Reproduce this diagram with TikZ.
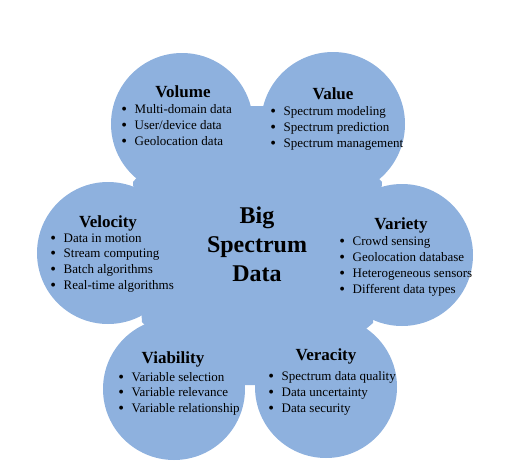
\documentclass[tikz,border=0pt]{standalone}
\usepackage{graphicx}
\usepackage{fontspec}
\setmainfont{Liberation Serif}
\definecolor{petalblue}{RGB}{142,177,222}
\newcommand\bulletlist[5]{%
  \foreach \t [count=\i] in {#5}{%
    \node[itm] (#1\i) at ({#2-2.8}, {#3+#4*(\i-1)}) {\makebox[13.3pt][l]{\raisebox{-1.1pt}{\scalebox{1.25}{\textbullet}}}\t};
  }}
\begin{document}
\begin{tikzpicture}[x=1pt,y=-1pt,
  petalfill/.style={fill=petalblue, draw=none},
  ttl/.style={anchor=base, inner sep=0pt, font=\fontsize{17}{20}\selectfont\bfseries},
  itm/.style={anchor=base west, inner sep=0pt, font=\fontsize{13}{15}\selectfont},
  core/.style={anchor=base, inner sep=0pt, font=\fontsize{24}{29}\selectfont\bfseries}]
\useasboundingbox (0,0) rectangle (523,474);
% central body
\fill[petalfill] (133,182) -- (200,106) -- (310,106) -- (382,182) -- (373,323)
  -- (300,385) -- (200,385) -- (142,322) -- cycle;
% petals
\fill[petalfill] (182,124) circle[radius=71];
\fill[petalfill] (333,124) circle[radius=72];
\fill[petalfill] (108,253) circle[radius=71];
\fill[petalfill] (402,255) circle[radius=71];
\fill[petalfill] (174,389) circle[radius=71];
\fill[petalfill] (326,387) circle[radius=71];
% centre text
\node[core] (big) at (257,223) {Big};
\node[core] (spectrum) at (257,252) {Spectrum};
\node[core] (data) at (257,281) {Data};
% titles
\node[ttl] (volume) at (183,97.5) {Volume};
\node[ttl] (value) at (333,99) {Value};
\node[ttl] (velocity) at (108,227) {Velocity};
\node[ttl] (variety) at (401,229) {Variety};
\node[ttl] (viability) at (173,363) {Viability};
\node[ttl] (veracity) at (326,360) {Veracity};
% lists
\bulletlist{vol}{124}{113}{16}{Multi-domain data, User/device data, Geolocation data}
\bulletlist{val}{273}{115}{16}{Spectrum modeling, Spectrum prediction, Spectrum management}
\bulletlist{vel}{53}{242}{15.7}{Data in motion, Stream computing, Batch algorithms, Real-time algorithms}
\bulletlist{var}{342}{245}{16}{Crowd sensing, Geolocation database, Heterogeneous sensors, Different data types}
\bulletlist{via}{121}{381}{15.7}{Variable selection, Variable relevance, Variable relationship}
\bulletlist{ver}{271}{380}{16}{Spectrum data quality, Data uncertainty, Data security}
\end{tikzpicture}
\end{document}
